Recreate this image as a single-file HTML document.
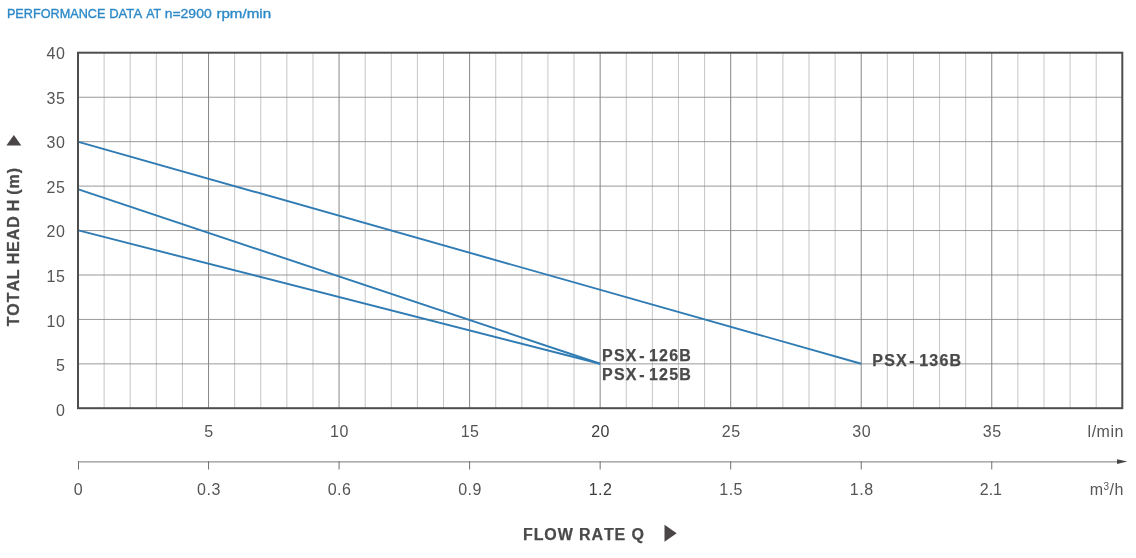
<!DOCTYPE html>
<html lang="en"><head><meta charset="utf-8"><title>Performance data</title>
<style>
html,body{margin:0;padding:0;background:#fff;}
body{width:1136px;height:558px;overflow:hidden;position:relative;font-family:"Liberation Sans",sans-serif;}
svg{position:absolute;left:0;top:0;display:block;}
text{font-family:"Liberation Sans",sans-serif;}
.t{fill:#2d89c8;font-size:13.5px;stroke:#2d89c8;stroke-width:0.35px;}
.n{fill:#555;font-size:16px;letter-spacing:0.5px;}
.b{fill:#4a4a4a;font-size:16px;font-weight:bold;letter-spacing:1.2px;font-kerning:none;stroke:#4a4a4a;stroke-width:0.25px;}
</style></head><body>
<svg width="1136" height="558" viewBox="0 0 1136 558">
<text class="t" y="18.1"><tspan x="6.9" textLength="98.5" lengthAdjust="spacingAndGlyphs">PERFORMANCE</tspan> <tspan x="109.2" textLength="32.2" lengthAdjust="spacingAndGlyphs">DATA</tspan> <tspan x="146.2" textLength="14.7" lengthAdjust="spacingAndGlyphs">AT</tspan> <tspan x="164.7" textLength="47.0" lengthAdjust="spacingAndGlyphs">n=2900</tspan> <tspan x="216.4" textLength="54.7" lengthAdjust="spacingAndGlyphs">rpm/min</tspan> </text>
<g stroke="#b8b8b8" stroke-width="0.8" fill="none">
<line x1="104.11" y1="52.7" x2="104.11" y2="408.2"/>
<line x1="130.22" y1="52.7" x2="130.22" y2="408.2"/>
<line x1="156.32" y1="52.7" x2="156.32" y2="408.2"/>
<line x1="182.43" y1="52.7" x2="182.43" y2="408.2"/>
<line x1="234.64" y1="52.7" x2="234.64" y2="408.2"/>
<line x1="260.75" y1="52.7" x2="260.75" y2="408.2"/>
<line x1="286.86" y1="52.7" x2="286.86" y2="408.2"/>
<line x1="312.97" y1="52.7" x2="312.97" y2="408.2"/>
<line x1="365.18" y1="52.7" x2="365.18" y2="408.2"/>
<line x1="391.29" y1="52.7" x2="391.29" y2="408.2"/>
<line x1="417.40" y1="52.7" x2="417.40" y2="408.2"/>
<line x1="443.50" y1="52.7" x2="443.50" y2="408.2"/>
<line x1="495.72" y1="52.7" x2="495.72" y2="408.2"/>
<line x1="521.83" y1="52.7" x2="521.83" y2="408.2"/>
<line x1="547.93" y1="52.7" x2="547.93" y2="408.2"/>
<line x1="574.04" y1="52.7" x2="574.04" y2="408.2"/>
<line x1="626.26" y1="52.7" x2="626.26" y2="408.2"/>
<line x1="652.37" y1="52.7" x2="652.37" y2="408.2"/>
<line x1="678.47" y1="52.7" x2="678.47" y2="408.2"/>
<line x1="704.58" y1="52.7" x2="704.58" y2="408.2"/>
<line x1="756.79" y1="52.7" x2="756.79" y2="408.2"/>
<line x1="782.90" y1="52.7" x2="782.90" y2="408.2"/>
<line x1="809.01" y1="52.7" x2="809.01" y2="408.2"/>
<line x1="835.12" y1="52.7" x2="835.12" y2="408.2"/>
<line x1="887.33" y1="52.7" x2="887.33" y2="408.2"/>
<line x1="913.44" y1="52.7" x2="913.44" y2="408.2"/>
<line x1="939.55" y1="52.7" x2="939.55" y2="408.2"/>
<line x1="965.65" y1="52.7" x2="965.65" y2="408.2"/>
<line x1="1017.87" y1="52.7" x2="1017.87" y2="408.2"/>
<line x1="1043.98" y1="52.7" x2="1043.98" y2="408.2"/>
<line x1="1070.09" y1="52.7" x2="1070.09" y2="408.2"/>
<line x1="1096.19" y1="52.7" x2="1096.19" y2="408.2"/>
</g>
<g stroke="#787878" stroke-width="0.9" fill="none">
<line x1="208.54" y1="52.7" x2="208.54" y2="408.2"/>
<line x1="339.07" y1="52.7" x2="339.07" y2="408.2"/>
<line x1="469.61" y1="52.7" x2="469.61" y2="408.2"/>
<line x1="600.15" y1="52.7" x2="600.15" y2="408.2"/>
<line x1="730.69" y1="52.7" x2="730.69" y2="408.2"/>
<line x1="861.22" y1="52.7" x2="861.22" y2="408.2"/>
<line x1="991.76" y1="52.7" x2="991.76" y2="408.2"/>
</g>
<g stroke="#868686" stroke-width="0.85" fill="none">
<line x1="78.0" y1="363.86" x2="1122.3" y2="363.86"/>
<line x1="78.0" y1="319.43" x2="1122.3" y2="319.43"/>
<line x1="78.0" y1="274.99" x2="1122.3" y2="274.99"/>
<line x1="78.0" y1="230.55" x2="1122.3" y2="230.55"/>
<line x1="78.0" y1="186.11" x2="1122.3" y2="186.11"/>
<line x1="78.0" y1="141.67" x2="1122.3" y2="141.67"/>
<line x1="78.0" y1="97.24" x2="1122.3" y2="97.24"/>
</g>
<g stroke="#2f7bb3" stroke-width="1.9" fill="none" stroke-linecap="butt">
<line x1="77.5" y1="141.57" x2="861.22" y2="363.76"/>
<line x1="78.5" y1="189.3" x2="600.15" y2="363.76"/>
<line x1="78.5" y1="230.45" x2="600.15" y2="363.76"/>
</g>
<rect x="78.0" y="52.7" width="1044.30" height="355.50" fill="none" stroke="#4d4d4d" stroke-width="2"/>
<text class="n" x="65.4" y="58.75" text-anchor="end">40</text>
<text class="n" x="65.4" y="104.02" text-anchor="end">35</text>
<text class="n" x="65.4" y="148.10" text-anchor="end">30</text>
<text class="n" x="65.4" y="192.77" text-anchor="end">25</text>
<text class="n" x="65.4" y="237.45" text-anchor="end">20</text>
<text class="n" x="65.4" y="282.12" text-anchor="end">15</text>
<text class="n" x="65.4" y="326.80" text-anchor="end">10</text>
<text class="n" x="65.4" y="371.47" text-anchor="end">5</text>
<text class="n" x="65.4" y="416.15" text-anchor="end">0</text>
<text class="n" x="208.99" y="436.5" text-anchor="middle">5</text>
<text class="n" x="339.52" y="436.5" text-anchor="middle">10</text>
<text class="n" x="470.06" y="436.5" text-anchor="middle">15</text>
<text class="n" style="fill:#3c3c3c" x="600.60" y="436.5" text-anchor="middle">20</text>
<text class="n" x="731.14" y="436.5" text-anchor="middle">25</text>
<text class="n" x="861.67" y="436.5" text-anchor="middle">30</text>
<text class="n" x="992.21" y="436.5" text-anchor="middle">35</text>
<text class="n" x="1123.9" y="436.5" text-anchor="end">l/min</text>
<line x1="78.0" y1="461.8" x2="1118" y2="461.8" stroke="#969696" stroke-width="1.2"/>
<g stroke="#707070" stroke-width="1" fill="none">
<line x1="78.50" y1="461.2" x2="78.50" y2="469.5"/>
<line x1="208.54" y1="461.2" x2="208.54" y2="469.5"/>
<line x1="339.07" y1="461.2" x2="339.07" y2="469.5"/>
<line x1="469.61" y1="461.2" x2="469.61" y2="469.5"/>
<line x1="600.15" y1="461.2" x2="600.15" y2="469.5"/>
<line x1="730.69" y1="461.2" x2="730.69" y2="469.5"/>
<line x1="861.22" y1="461.2" x2="861.22" y2="469.5"/>
<line x1="991.76" y1="461.2" x2="991.76" y2="469.5"/>
</g>
<path d="M1127.4 461.6 L1117.0 459.3 L1117.0 463.9 Z" fill="#464646"/>
<text class="n" x="78.45" y="494.8" text-anchor="middle">0</text>
<text class="n" x="208.99" y="494.8" text-anchor="middle">0.3</text>
<text class="n" x="339.52" y="494.8" text-anchor="middle">0.6</text>
<text class="n" x="470.06" y="494.8" text-anchor="middle">0.9</text>
<text class="n" style="fill:#3c3c3c" x="600.60" y="494.8" text-anchor="middle">1.2</text>
<text class="n" x="731.14" y="494.8" text-anchor="middle">1.5</text>
<text class="n" x="861.67" y="494.8" text-anchor="middle">1.8</text>
<text class="n" style="letter-spacing:0" x="990.86" y="494.8" text-anchor="middle">2.1</text>
<text class="n" x="1123.9" y="494.8" text-anchor="end">m<tspan font-size="10" dy="-5">3</tspan><tspan dy="5">/h</tspan></text>
<text class="b" x="602.1" y="361.4">PSX<tspan dx="1.4">-</tspan> <tspan dx="-2.3">1</tspan>26B</text>
<text class="b" x="602.1" y="380.4">PSX<tspan dx="1.4">-</tspan> <tspan dx="-2.3">1</tspan>25B</text>
<text class="b" x="872.3" y="366.4">PSX<tspan dx="1.4">-</tspan> <tspan dx="-2.3">1</tspan>36B</text>
<text class="b" style="letter-spacing:0.9px;word-spacing:-1.2px" transform="translate(18.9 326.3) rotate(-90)">TOTAL HEAD H (m)</text>
<path d="M13.85 135 L21.3 145.4 L6.4 145.4 Z" fill="#4a4547"/>
<text class="b" style="letter-spacing:0.9px" x="523.0" y="539.6">FLOW RATE Q</text>
<path d="M664.5 524.8 L676.7 533.3 L664.5 541.7 Z" fill="#4a4547"/>
</svg>
</body></html>
